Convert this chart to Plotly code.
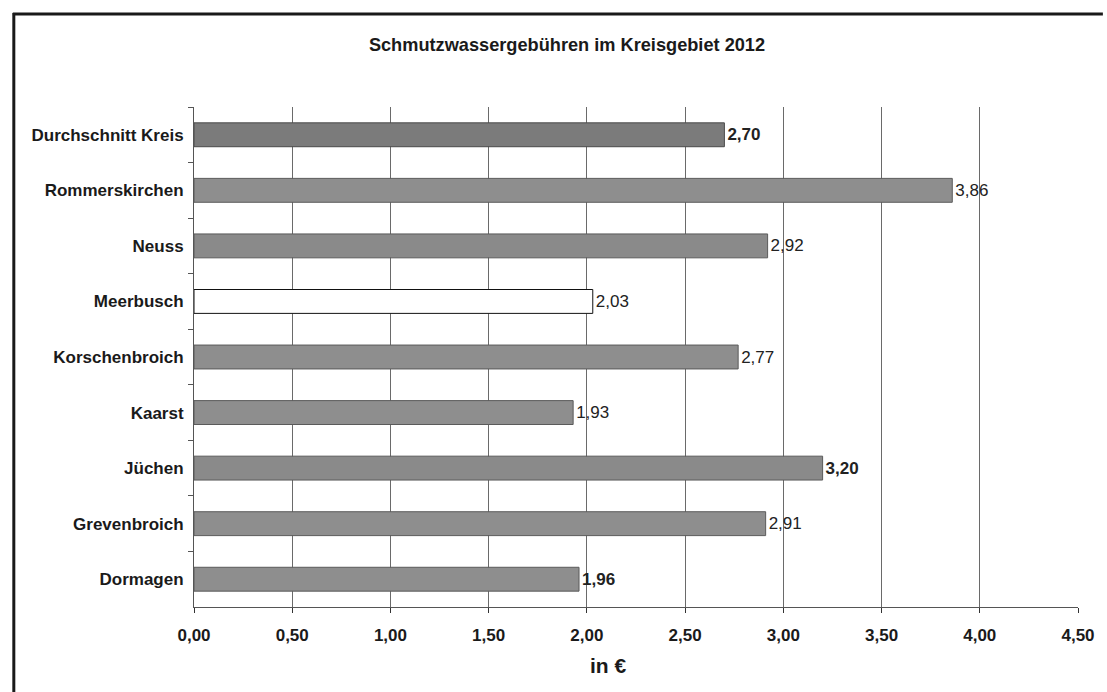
import plotly.graph_objects as go

# Schmutzwassergebühren 2012 (Euro je m³), top to bottom
kommunen = ["Durchschnitt Kreis", "Rommerskirchen", "Neuss", "Meerbusch",
            "Korschenbroich", "Kaarst", "Jüchen", "Grevenbroich", "Dormagen"]
gebuehren = [2.70, 3.86, 2.92, 2.03, 2.77, 1.93, 3.20, 2.91, 1.96]
x_ticks = [0, 0.5, 1.0, 1.5, 2.0, 2.5, 3.0, 3.5, 4.0, 4.5]
x_tick_labels = ["0,00", "0,50", "1,00", "1,50", "2,00", "2,50", "3,00", "3,50", "4,00", "4,50"]

# styling per bar
fill = ["#7b7b7b", "#8e8e8e", "#8a8a8a", "#ffffff", "#8e8e8e",
        "#8e8e8e", "#8a8a8a", "#8e8e8e", "#8e8e8e"]
outline = ["#4a4a4a", "#5a5a5a", "#5a5a5a", "#111111", "#5a5a5a",
           "#5a5a5a", "#5a5a5a", "#5a5a5a", "#5a5a5a"]
bold_label = [True, False, False, False, False, False, True, False, True]

FONT = "Liberation Sans, Arial, sans-serif"

labels = []
for v, b in zip(gebuehren, bold_label):
    s = f"{v:.2f}".replace(".", ",")
    labels.append(f"<b>{s}</b>" if b else s)

fig = go.Figure()
fig.add_trace(go.Bar(
    x=gebuehren,
    y=kommunen,
    orientation="h",
    width=0.43,
    marker=dict(color=fill, line=dict(color=outline, width=1)),
    text=labels,
    textposition="outside",
    textfont=dict(family=FONT, size=17, color="#222222"),
    cliponaxis=False,
    hoverinfo="skip",
))

# vertical grid lines at the inner ticks only
fig.add_trace(go.Scatter(x=[None], y=[None], xaxis="x2", showlegend=False))

fig.update_layout(
    width=1107,
    height=692,
    margin=dict(l=194, r=25, t=107, b=85),
    paper_bgcolor="white",
    plot_bgcolor="white",
    showlegend=False,
    bargap=0.5,
    title=dict(
        text="<b>Schmutzwassergebühren im Kreisgebiet 2012</b>",
        x=567 / 1107, xanchor="center", y=1 - 45 / 692, yanchor="middle",
        font=dict(family=FONT, size=18.2, color="#1a1a1a"),
    ),
    xaxis=dict(
        range=[0, 4.5],
        tickvals=x_ticks,
        ticktext=x_tick_labels,
        tickfont=dict(family=FONT, size=17, color="#1a1a1a", weight="bold"),
        showgrid=False,
        zeroline=False,
        showline=True,
        linecolor="#555555",
        linewidth=1,
        ticks="outside",
        ticklen=5,
        tickcolor="#333333",
        ticklabelstandoff=8,
    ),
    xaxis2=dict(
        range=[0, 4.5],
        overlaying="x",
        tickvals=x_ticks[1:-1],
        showticklabels=False,
        showgrid=True,
        gridcolor="#6a6a6a",
        gridwidth=1,
        zeroline=False,
        showline=False,
        layer="below traces",
    ),
    yaxis=dict(
        categoryorder="array",
        categoryarray=kommunen,
        autorange="reversed",
        tickfont=dict(family=FONT, size=17, color="#1a1a1a", weight="bold"),
        showline=True,
        linecolor="#555555",
        linewidth=1,
        ticks="outside",
        tickson="boundaries",
        ticklen=5,
        tickcolor="#555555",
        showgrid=False,
        ticklabelstandoff=6,
    ),
)

fig.add_annotation(
    text="<b>in €</b>", x=(610 - 194) / 888, y=(607 - 666) / 500,
    xref="paper", yref="paper", xanchor="center", yanchor="middle",
    showarrow=False,
    font=dict(family=FONT, size=21, color="#1a1a1a"),
)

# page frame (left and top edge)
fig.add_shape(type="line", xref="paper", yref="paper",
              x0=(13 - 194) / 888, x1=(13 - 194) / 888,
              y0=(607 - 13) / 500, y1=(607 - 692) / 500,
              line=dict(color="#1a1a1a", width=3))
fig.add_shape(type="line", xref="paper", yref="paper",
              x0=(12 - 194) / 888, x1=(1107 - 194) / 888,
              y0=(607 - 14) / 500, y1=(607 - 14) / 500,
              line=dict(color="#1a1a1a", width=3))

fig.write_html("out.html")
